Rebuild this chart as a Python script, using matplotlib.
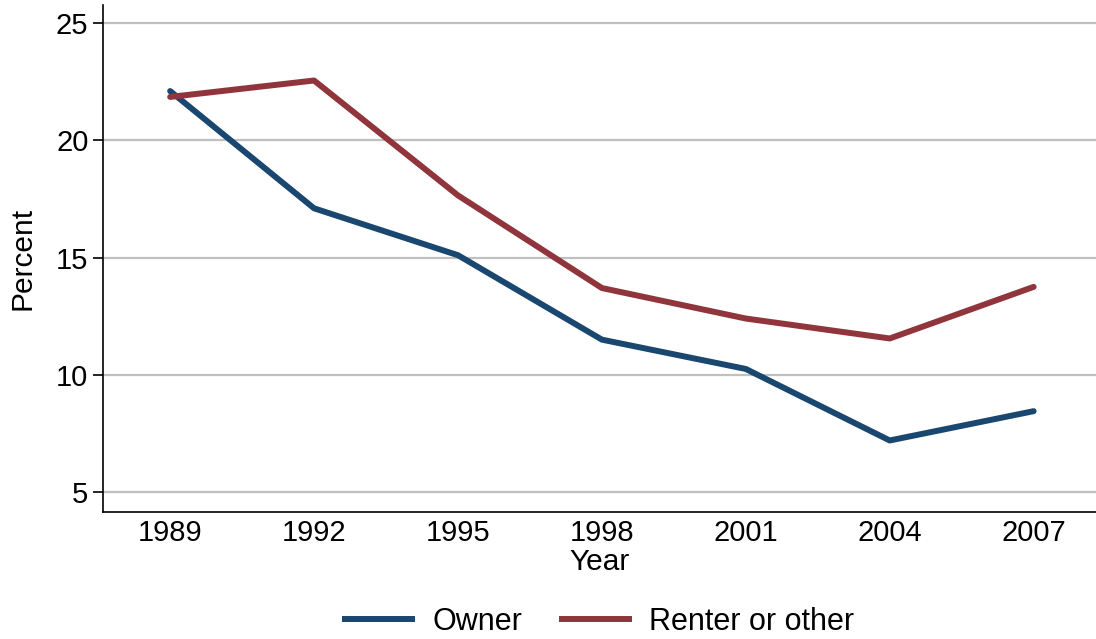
import matplotlib
matplotlib.use("Agg")
import matplotlib.pyplot as plt

# values
years = [1989, 1992, 1995, 1998, 2001, 2004, 2007]
owner = [22.1, 17.1, 15.1, 11.5, 10.25, 7.2, 8.45]
renter = [21.85, 22.55, 17.65, 13.7, 12.4, 11.55, 13.75]
yticks = [5, 10, 15, 20, 25]

plt.rcParams['font.family'] = ['Liberation Sans', 'DejaVu Sans']

W, H = 1096, 639
fig = plt.figure(figsize=(W / 100, H / 100), dpi=100)
ax = fig.add_axes([103 / W, (H - 512) / H, (W - 103) / W, (512 - 5) / H])

ax.plot(years, owner, color='#1a476f', lw=4.3, solid_capstyle='round', label='Owner')
ax.plot(years, renter, color='#90353b', lw=4.3, solid_capstyle='round', label='Renter or other')

ax.set_xlim(1987.6, 2008.3)
ax.set_ylim(4.15, 25.77)
ax.set_xticks(years)
ax.set_yticks(yticks)
ax.yaxis.grid(True, color='#c0c0c0', lw=1.6)
ax.set_axisbelow(True)
for s in ['top', 'right']:
    ax.spines[s].set_visible(False)
ax.spines['left'].set_linewidth(1.2)
ax.spines['bottom'].set_linewidth(1.2)
ax.tick_params(axis='y', length=7.5, width=1.2, labelsize=21, pad=3)
ax.tick_params(axis='x', length=0, labelsize=21, pad=5)

ax.set_xlabel('Year', fontsize=21.5, labelpad=1)
ax.set_ylabel('Percent', fontsize=21.5, labelpad=14)

leg = fig.legend(loc='center', bbox_to_anchor=(598 / W, 1 - 622 / H), ncol=2, frameon=False,
                 fontsize=22, handlelength=2.4, handletextpad=0.55, columnspacing=1.2)
for line in leg.get_lines():
    line.set_solid_capstyle('butt')

fig.savefig('out.png', dpi=100)
